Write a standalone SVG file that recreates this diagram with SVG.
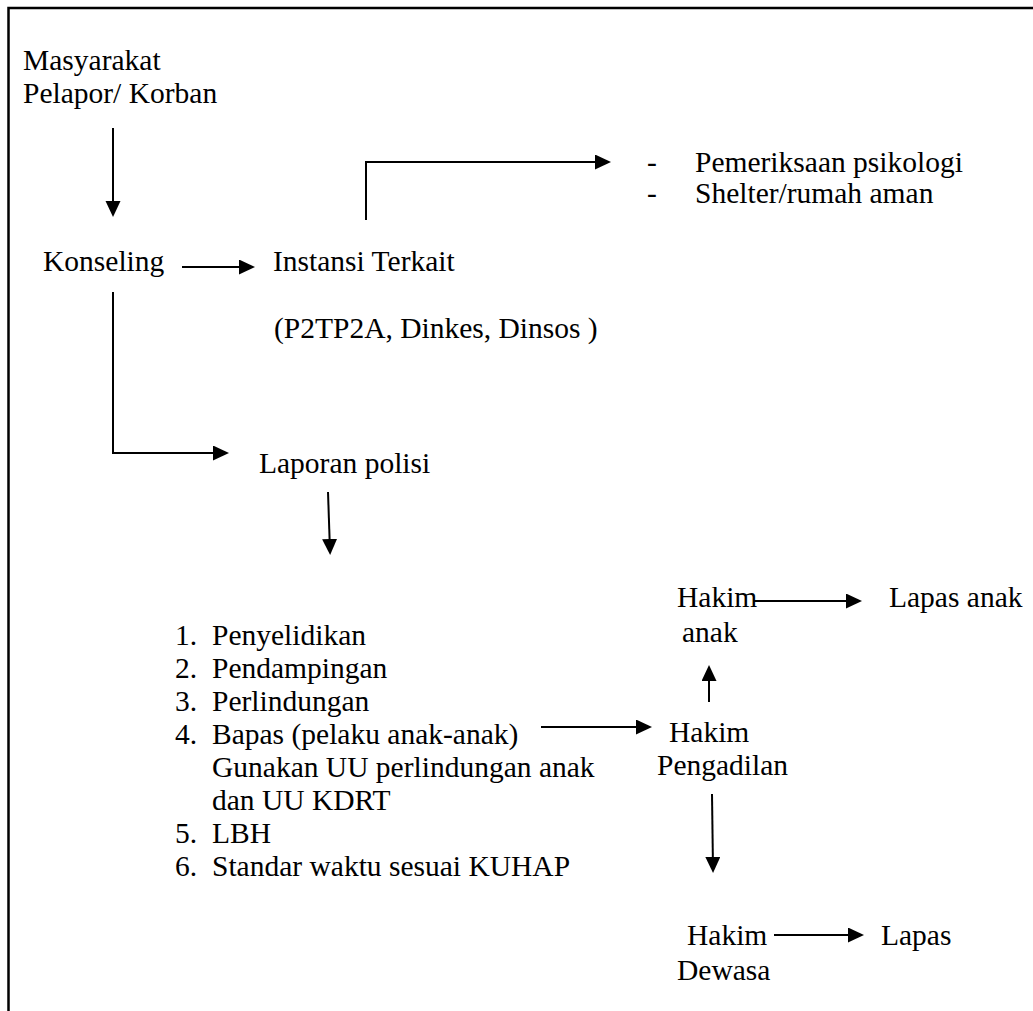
<svg xmlns="http://www.w3.org/2000/svg" width="1033" height="1011" viewBox="0 0 1033 1011">
<style>
text{font-family:"Liberation Serif","Times New Roman",serif;font-size:29.5px;fill:#000}
.c{fill:none;stroke:#000;stroke-width:2}
</style>
<defs>
<marker id="ah" markerUnits="userSpaceOnUse" markerWidth="17" markerHeight="16" refX="12" refY="7.5" orient="auto">
<path d="M0,0 L16,7.5 L0,15 Z" fill="#000"/>
</marker>
</defs>
<rect width="1033" height="1011" fill="#fff"/>
<path d="M8.5,1011 V8 H1033" fill="none" stroke="#000" stroke-width="2.5"/>

<g id="masyarakat"><text x="23" y="70">Masyarakat</text><text x="23" y="103">Pelapor/ Korban</text></g>
<g id="konseling"><text x="43" y="271">Konseling</text></g>
<g id="instansi"><text x="273" y="271">Instansi Terkait</text><text x="274" y="338">(P2TP2A, Dinkes, Dinsos )</text></g>
<g id="layanan"><text x="647" y="172">-</text><text x="695" y="172">Pemeriksaan psikologi</text><text x="647" y="203">-</text><text x="695" y="203">Shelter/rumah aman</text></g>
<g id="laporan"><text x="259" y="473">Laporan polisi</text></g>
<g id="daftar">
<text x="175" y="645">1.</text><text x="212" y="645">Penyelidikan</text>
<text x="175" y="678">2.</text><text x="212" y="678">Pendampingan</text>
<text x="175" y="711">3.</text><text x="212" y="711">Perlindungan</text>
<text x="175" y="744">4.</text><text x="212" y="744">Bapas (pelaku anak-anak)</text>
<text x="212" y="777">Gunakan UU perlindungan anak</text>
<text x="212" y="810">dan UU KDRT</text>
<text x="175" y="843">5.</text><text x="212" y="843">LBH</text>
<text x="175" y="876">6.</text><text x="212" y="876">Standar waktu sesuai KUHAP</text>
</g>
<g id="hakim-anak"><text x="677" y="607">Hakim</text><text x="682" y="642">anak</text></g>
<g id="lapas-anak"><text x="889" y="607">Lapas anak</text></g>
<g id="hakim-pengadilan"><text x="669" y="742">Hakim</text><text x="657" y="775">Pengadilan</text></g>
<g id="hakim-dewasa"><text x="687" y="945">Hakim</text><text x="677" y="980">Dewasa</text></g>
<g id="lapas"><text x="881" y="945">Lapas</text></g>

<g id="connectors" class="c">
<path class="c" d="M113,128 V213" marker-end="url(#ah)"/>
<path class="c" d="M182,267 H251" marker-end="url(#ah)"/>
<path class="c" d="M366,220 V162 H607" marker-end="url(#ah)"/>
<path class="c" d="M113,292 V453 H225" marker-end="url(#ah)"/>
<path class="c" d="M328,492 L330,551" marker-end="url(#ah)"/>
<path class="c" d="M541,727 H648" marker-end="url(#ah)"/>
<path class="c" d="M709,702 V669" marker-end="url(#ah)"/>
<path class="c" d="M753,601 H858" marker-end="url(#ah)"/>
<path class="c" d="M712,794 L713,869" marker-end="url(#ah)"/>
<path class="c" d="M774,935 H860" marker-end="url(#ah)"/>
</g>
</svg>
